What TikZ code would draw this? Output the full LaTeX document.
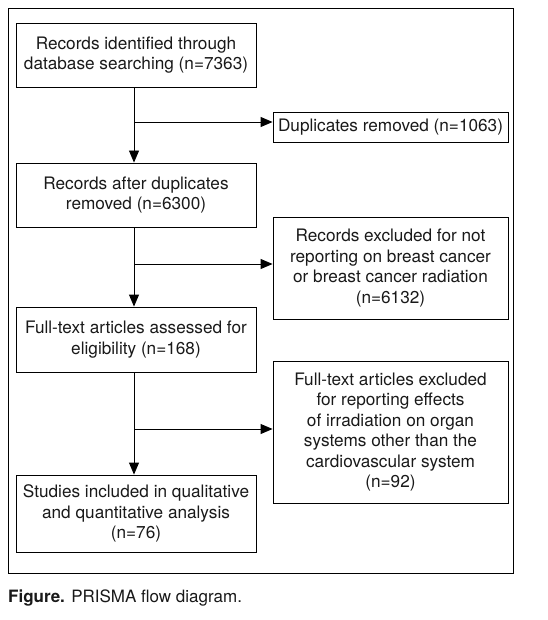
\documentclass[tikz,border=0pt]{standalone}
\usepackage{fontspec}
\setmainfont{TeX Gyre Heros}
\usetikzlibrary{arrows.meta,calc}
\begin{document}
\begin{tikzpicture}[x=1pt,y=-1pt,
  box/.style={draw=black,line width=0.9pt,align=center,inner sep=0pt,
    font=\fontsize{17.2}{20.5}\selectfont,text=black!90},
  conn/.style={draw=black,line width=0.9pt,-{Triangle[length=12pt,width=10pt]}},
  plain/.style={draw=black,line width=0.9pt}]
\useasboundingbox (0,0) rectangle (547,620);
\node[draw=black,line width=0.9pt,minimum width=505pt,minimum height=565pt,inner sep=0pt] (frame) at (260.5,290.5) {};
\node[box,minimum width=240pt,minimum height=64pt] (b1) at (136,55) {Records identified through\\database searching (n=7363)};
\node[box,minimum width=240pt,minimum height=64pt] (b2) at (136,195) {Records after duplicates\\removed (n=6300)};
\node[box,minimum width=240pt,minimum height=65pt] (b3) at (136,339.5) {Full-text articles assessed for\\eligibility (n=168)};
\node[box,minimum width=240pt,minimum height=77pt] (b4) at (136,513.5) {Studies included in qualitative\\and quantitative analysis\\(n=76)};
\node[box,minimum width=235pt,minimum height=30pt] (r1) at (390.5,127) {Duplicates removed (n=1063)};
\node[box,minimum width=235pt,minimum height=102pt] (r2) at (390.5,268) {Records excluded for not\\reporting on breast cancer\\or breast cancer radiation\\(n=6132)};
\node[box,minimum width=235pt,minimum height=142pt] (r3) at (390.5,432) {Full-text articles excluded\\for reporting effects\\of irradiation on organ\\systems other than the\\cardiovascular system\\(n=92)};
\coordinate (j1) at (134,122);
\coordinate (j2) at (134,264);
\coordinate (j3) at (134,429);
\draw[conn] (b1.south -| j1) -- (b2.north -| j1);
\draw[conn] (b2.south -| j2) -- (b3.north -| j2);
\draw[conn] (b3.south -| j3) -- (b4.north -| j3);
\draw[conn] (j1) -- (j1 -| r1.west);
\draw[conn] (j2) -- (j2 -| r2.west);
\draw[conn] (j3) -- (j3 -| r3.west);
\node[anchor=west,inner sep=0pt,font=\fontsize{17}{20}\selectfont,text=black!90] (cap) at (8,598) {\textbf{Figure.} PRISMA flow diagram.};
\end{tikzpicture}
\end{document}
